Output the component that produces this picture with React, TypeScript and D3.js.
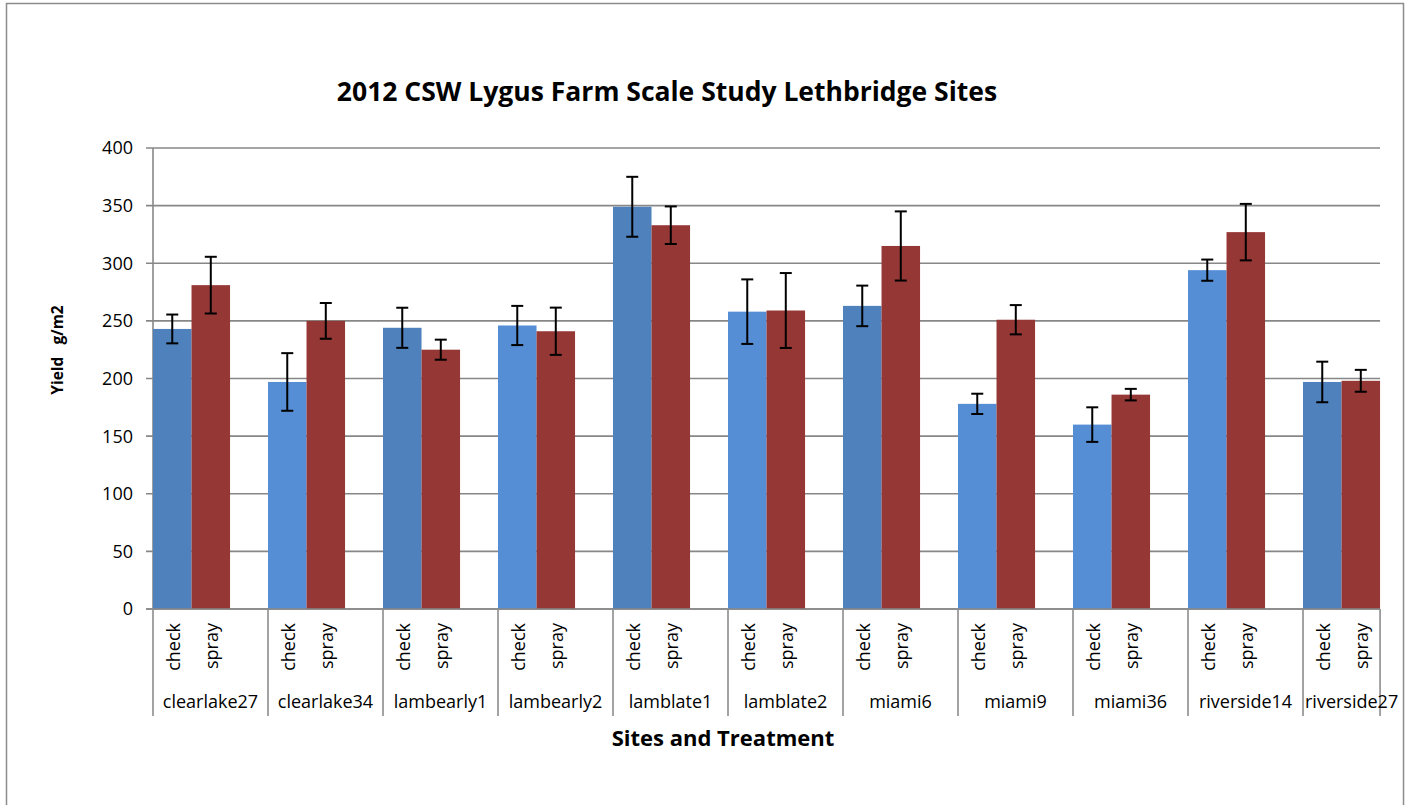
import * as React from 'react';
import * as d3 from 'd3';

const sites: string[] = [
	'clearlake27',
	'clearlake34',
	'lambearly1',
	'lambearly2',
	'lamblate1',
	'lamblate2',
	'miami6',
	'miami9',
	'miami36',
	'riverside14',
	'riverside27'
];
const treatments: string[] = ['check', 'spray'];

const checkValues: number[] = [243, 197, 244, 246, 349, 258, 263, 178, 160, 294, 197];
const checkErrors: number[] = [12.5, 25, 17.4, 17, 26, 28, 17.6, 8.8, 15, 9.2, 17.6];
const sprayValues: number[] = [281, 250, 225, 241, 333, 259, 315, 251, 186, 327, 198];
const sprayErrors: number[] = [24.6, 15.5, 8.7, 20.5, 16.3, 32.5, 30, 12.7, 5, 24.5, 9.5];

const yTicks: number[] = [0, 50, 100, 150, 200, 250, 300, 350, 400];

// check bars alternate shade in the original workbook
const checkColors: string[] = [
	'#4f81bd',
	'#558ed5',
	'#4f81bd',
	'#558ed5',
	'#4f81bd',
	'#558ed5',
	'#4f81bd',
	'#558ed5',
	'#558ed5',
	'#558ed5',
	'#4f81bd'
];
const sprayColor = '#953735';

const FONT = "'Open Sans', 'Liberation Sans', sans-serif";

export default function App() {
	const ref = React.useRef<SVGSVGElement>(null);

	React.useEffect(() => {
		const svg = d3.select(ref.current);
		svg.selectAll('*').remove();

		const left = 153;
		const top = 148;
		const zeroY = 609;
		const bandW = 115;

		const x = d3
			.scaleBand()
			.domain(sites)
			.range([left, left + bandW * sites.length])
			.paddingInner(0)
			.paddingOuter(0);
		const inner = d3
			.scaleBand()
			.domain(treatments)
			.range([0, bandW * 0.67]);
		const right = (x(sites[sites.length - 1]) as number) + bandW * 0.67;

		const y = d3.scaleLinear().domain([0, 400]).range([zeroY, top]);

		// outer frame
		svg.append('rect')
			.attr('x', 6.5)
			.attr('y', 3.5)
			.attr('width', 1397)
			.attr('height', 820)
			.attr('fill', '#fff')
			.attr('stroke', '#8c8c8c')
			.attr('stroke-width', 1.5);

		svg.append('text')
			.attr('x', 667)
			.attr('y', 101)
			.attr('text-anchor', 'middle')
			.attr('font-family', FONT)
			.attr('font-weight', 'bold')
			.attr('font-size', 26.5)
			.text('2012 CSW Lygus Farm Scale Study Lethbridge Sites');

		// gridlines + ticks
		const grid = svg.append('g');
		yTicks.forEach((t) => {
			grid.append('line')
				.attr('x1', left - 7)
				.attr('x2', right)
				.attr('y1', y(t))
				.attr('y2', y(t))
				.attr('stroke', '#878787')
				.attr('stroke-width', 1.6);
			grid.append('text')
				.attr('x', 133)
				.attr('y', y(t))
				.attr('dy', '0.36em')
				.attr('text-anchor', 'end')
				.attr('font-family', FONT)
				.attr('font-size', 18)
				.text(t);
		});

		// y axis line
		svg.append('line')
			.attr('x1', left)
			.attr('x2', left)
			.attr('y1', top)
			.attr('y2', zeroY)
			.attr('stroke', '#878787')
			.attr('stroke-width', 1.6);

		// bars
		const g = svg.append('g');
		sites.forEach((s, i) => {
			const x0 = x(s) as number;
			const bars = [
				{ t: 'check', v: checkValues[i], c: checkColors[i] },
				{ t: 'spray', v: sprayValues[i], c: sprayColor }
			];
			bars.forEach((b) => {
				g.append('rect')
					.attr('x', x0 + (inner(b.t) as number))
					.attr('y', y(b.v))
					.attr('width', inner.bandwidth())
					.attr('height', zeroY - y(b.v))
					.attr('fill', b.c);
			});
		});

		// error bars
		const eg = svg.append('g').attr('stroke', '#000').attr('stroke-width', 2);
		sites.forEach((s, i) => {
			const x0 = x(s) as number;
			const bars = [
				{ t: 'check', v: checkValues[i], e: checkErrors[i] },
				{ t: 'spray', v: sprayValues[i], e: sprayErrors[i] }
			];
			bars.forEach((b) => {
				const cx = x0 + (inner(b.t) as number) + inner.bandwidth() / 2;
				const hi = y(b.v + b.e);
				const lo = y(b.v - b.e);
				eg.append('line').attr('x1', cx).attr('x2', cx).attr('y1', hi).attr('y2', lo);
				eg.append('line').attr('x1', cx - 6).attr('x2', cx + 6).attr('y1', hi).attr('y2', hi);
				eg.append('line').attr('x1', cx - 6).attr('x2', cx + 6).attr('y1', lo).attr('y2', lo);
			});
		});

		// x axis: zero line and category dividers
		svg.append('line')
			.attr('x1', left - 7)
			.attr('x2', right)
			.attr('y1', zeroY)
			.attr('y2', zeroY)
			.attr('stroke', '#878787')
			.attr('stroke-width', 1.6);

		const dividers = sites.map((s) => x(s) as number).concat([right]);
		dividers.forEach((d) => {
			svg.append('line')
				.attr('x1', d)
				.attr('x2', d)
				.attr('y1', zeroY)
				.attr('y2', 716)
				.attr('stroke', '#8c8c8c')
				.attr('stroke-width', 1.6);
		});

		const labels = svg.append('g').attr('font-family', FONT).attr('font-size', 18);
		sites.forEach((s, i) => {
			const x0 = x(s) as number;
			treatments.forEach((t) => {
				const cx = x0 + (inner(t) as number) + inner.bandwidth() / 2;
				labels.append('text')
					.attr('transform', `translate(${cx + 7.5},623) rotate(-90)`)
					.attr('text-anchor', 'end')
					.text(t);
			});
			const x1 = i < sites.length - 1 ? x0 + bandW : right;
			const txt = labels.append('text')
				.attr('x', (x0 + x1) / 2)
				.attr('y', 708)
				.attr('text-anchor', 'middle')
				.text(s);
			const w = (txt.node() as SVGTextElement).getComputedTextLength();
			if (w > x1 - x0) {
				txt.attr('x', x0 + 2).attr('text-anchor', 'start');
			}
		});

		svg.append('text')
			.attr('x', 723)
			.attr('y', 746)
			.attr('text-anchor', 'middle')
			.attr('font-family', FONT)
			.attr('font-weight', 'bold')
			.attr('font-size', 22)
			.text('Sites and Treatment');

		svg.append('text')
			.attr('transform', 'translate(63,350) rotate(-90)')
			.attr('text-anchor', 'middle')
			.attr('font-family', FONT)
			.attr('font-weight', 'bold')
			.attr('font-size', 15.5)
			.attr('xml:space', 'preserve')
			.text('Yield   g/m2');
	}, []);

	return (
		<svg
			ref={ref}
			width={1410}
			height={805}
			viewBox="0 0 1410 805"
			style={{ position: 'absolute', left: 0, top: 0, display: 'block' }}
		/>
	);
}
